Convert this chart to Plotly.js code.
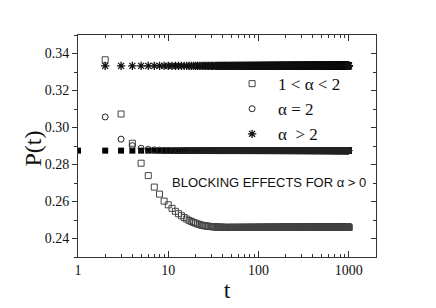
<!DOCTYPE html>
<html>
<head>
<meta charset="utf-8">
<script src="https://cdn.plot.ly/plotly-3.0.1.min.js"></script>
<style>html,body{margin:0;padding:0;background:#fff;}#chart{width:436px;height:308px;}</style>
</head>
<body>
<div id="chart"></div>
<script>
// ---- data ----
const tMax = 1000;
// 1 < alpha < 2 (open squares), values for t = 2..40, then steady value
const sqEarly = [0.3366,0.3073,0.2915,0.2807,0.2740,0.2678,0.2640,0.2602,0.2582,0.2563,
                 0.2547,0.2534,0.2523,0.2513,0.2505,0.2498,0.2492,0.2487,0.2483,0.2479,
                 0.2476,0.2473,0.2471,0.2469,0.2468,0.2467,0.2466,0.2465,0.2464,0.2464,
                 0.2463,0.2463,0.2462,0.2462,0.2462,0.2461,0.2461,0.2461,0.2461];
const sqSteady = 0.2460;
// alpha = 2 (open circles), values for t = 2..10, then steady value
const ciEarly = [0.3057,0.2937,0.2902,0.2888,0.2882,0.2879,0.2877,0.2876,0.2876];
const ciSteady = 0.2875;
// alpha > 2 (asterisks), t = 2..1000
const asSteady = 0.3333;
// blocking effects (filled squares), t = 1..1000
const blSteady = 0.2875;

const seriesNames = ['1 < \u03b1 < 2', '\u03b1 = 2', '\u03b1  > 2'];
const annText = 'BLOCKING EFFECTS FOR \u03b1 > 0';
const yTitle = 'P(t)';
const xTitle = 't';

// ---- build traces ----
function build(early, steady, tStart) {
  const x = [], y = [];
  for (let t = tStart; t <= tMax; t++) {
    const i = t - tStart;
    x.push(t);
    y.push(i < early.length ? early[i] : steady);
  }
  return {x, y};
}
const sq = build(sqEarly, sqSteady, 2);
const ci = build(ciEarly, ciSteady, 2);
const as = build([], asSteady, 2);
const bl = build([], blSteady, 1);

const minorX = [];
for (let d = 1; d <= 1000; d *= 10) for (let k = 2; k <= 9; k++) if (d*k < 2000) minorX.push(d*k);

const traces = [
  {x: bl.x, y: bl.y, type: 'scatter', mode: 'markers', showlegend: false,
   marker: {symbol: 'square', size: 6, color: '#000'}},
  {x: sq.x, y: sq.y, type: 'scatter', mode: 'markers', name: seriesNames[0],
   marker: {symbol: 'square-open', size: 6, color: '#444', line: {width: 1}}},
  {x: ci.x, y: ci.y, type: 'scatter', mode: 'markers', name: seriesNames[1],
   marker: {symbol: 'circle-open', size: 6, color: '#222', line: {width: 1}}},
  {x: as.x, y: as.y, type: 'scatter', mode: 'markers', name: seriesNames[2],
   marker: {symbol: 'asterisk-open', size: 7, color: '#111', line: {width: 1.3}}}
];

const serif = 'Liberation Serif';
const axCol = '#333';
const layout = {
  width: 436, height: 308,
  font: {family: serif, size: 14, color: '#111'},
  margin: {l: 78, r: 60, t: 35, b: 51},
  paper_bgcolor: '#fff', plot_bgcolor: '#fff',
  showlegend: true,
  legend: {x: 0.497, y: 0.86, xanchor: 'left', yanchor: 'top', itemwidth: 42,
           bgcolor: 'rgba(0,0,0,0)', font: {family: serif, size: 17, color: '#111'},
           itemsizing: 'trace', tracegroupgap: 0},
  xaxis: {type: 'log', range: [0, 3.301], dtick: 1, showgrid: false, zeroline: false,
          showline: true, linecolor: axCol, linewidth: 1,
          ticks: 'inside', ticklen: 6, tickcolor: axCol,
          tickfont: {family: serif, size: 14, color: '#111'},
          minor: {tickmode: 'array', tickvals: minorX, ticks: 'inside', ticklen: 3, tickcolor: axCol, showgrid: false},
          title: {text: xTitle, font: {family: serif, size: 24, color: '#111'}, standoff: 4}},
  xaxis2: {type: 'log', range: [0, 3.301], dtick: 1, overlaying: 'x', side: 'top',
           showgrid: false, zeroline: false, showline: true, linecolor: axCol, linewidth: 1,
           ticks: 'inside', ticklen: 6, tickcolor: axCol, showticklabels: false,
           minor: {tickmode: 'array', tickvals: minorX, ticks: 'inside', ticklen: 3, tickcolor: axCol, showgrid: false}},
  yaxis: {range: [0.23, 0.35], dtick: 0.02, tick0: 0.24, tickformat: '.2f',
          showgrid: false, zeroline: false, showline: true, linecolor: axCol, linewidth: 1,
          ticks: 'outside', ticklen: 5, tickcolor: axCol,
          tickfont: {family: serif, size: 14, color: '#111'},
          minor: {dtick: 0.01, ticks: 'outside', ticklen: 3, tickcolor: axCol, showgrid: false}},
  yaxis2: {range: [0.23, 0.35], dtick: 0.02, tick0: 0.24, overlaying: 'y', side: 'right',
           showgrid: false, zeroline: false, showline: true, linecolor: axCol, linewidth: 1,
           ticks: 'inside', ticklen: 5, tickcolor: axCol, showticklabels: false,
           minor: {dtick: 0.01, ticks: 'inside', ticklen: 3, tickcolor: axCol, showgrid: false}},
  annotations: [
    {text: annText, xref: 'paper', yref: 'paper', x: 0.31, y: 0.335,
     xanchor: 'left', yanchor: 'middle', showarrow: false,
     font: {family: 'Liberation Sans', size: 13, color: '#111'}},
    {text: yTitle, xref: 'paper', yref: 'paper', x: -0.15, y: 0.49, textangle: -90,
     xanchor: 'center', yanchor: 'middle', showarrow: false,
     font: {family: serif, size: 24, color: '#111'}}
  ]
};
// dummy trace to activate the mirrored axes
traces.push({x: [1], y: [0.3], xaxis: 'x2', yaxis: 'y2', mode: 'markers',
             marker: {opacity: 0}, showlegend: false, hoverinfo: 'skip', type: 'scatter'});

Plotly.newPlot('chart', traces, layout, {displayModeBar: false, staticPlot: true});
</script>
</body>
</html>
